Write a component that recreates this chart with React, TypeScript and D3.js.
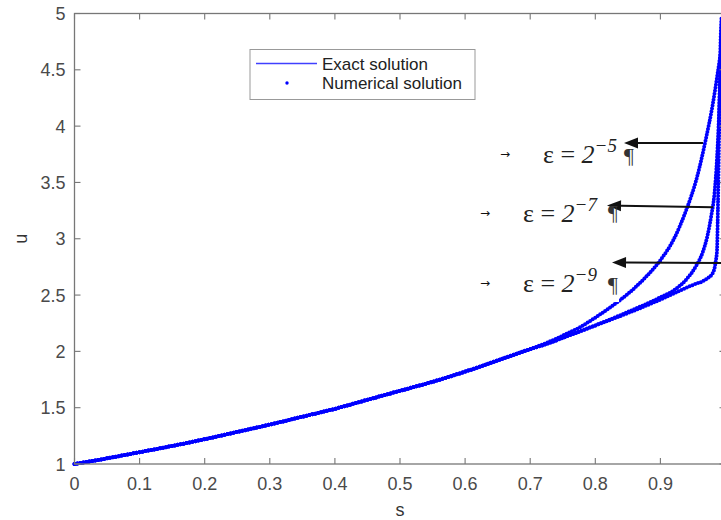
import React from "react";
import * as d3 from "d3";

// ---- data ----
const sCommon = [0, 0.05, 0.1, 0.15, 0.2, 0.25, 0.3, 0.35, 0.4, 0.45, 0.5, 0.55, 0.6, 0.65, 0.7];
const uCommon = [1, 1.05, 1.105, 1.16, 1.22, 1.285, 1.35, 1.42, 1.49, 1.57, 1.65, 1.73, 1.82, 1.92, 2.02];

// epsilon = 2^-5
const sTail5 = [0.725, 0.75, 0.775, 0.8, 0.825, 0.85, 0.875, 0.9, 0.92, 0.94, 0.955, 0.97, 0.98, 0.99, 1.0];
const uTail5 = [2.075, 2.14, 2.21, 2.3, 2.4, 2.51, 2.645, 2.81, 2.99, 3.26, 3.52, 3.89, 4.18, 4.55, 4.96];

// epsilon = 2^-7
const sTail7 = [0.725, 0.75, 0.8, 0.85, 0.9, 0.92, 0.94, 0.955, 0.965, 0.972, 0.978, 0.983, 0.987, 0.99, 0.992, 0.994, 0.996];
const uTail7 = [2.065, 2.12, 2.23, 2.35, 2.48, 2.54, 2.64, 2.76, 2.88, 3.02, 3.2, 3.4, 3.72, 4.1, 4.45, 4.75, 4.97];

// epsilon = 2^-9
const sTail9 = [0.725, 0.75, 0.8, 0.85, 0.9, 0.93, 0.95, 0.97, 0.981, 0.985, 0.987, 0.988, 0.989, 0.99, 0.991, 0.992, 0.994];
const uTail9 = [2.065, 2.12, 2.23, 2.34, 2.46, 2.54, 2.59, 2.64, 2.7, 2.8, 2.9, 3.15, 3.5, 3.9, 4.3, 4.65, 4.97];

const epsExponents = ["\u22125", "\u22127", "\u22129"];
// annotation anchors in data coordinates: label (s,u), arrow tail (s,u) -> arrow tip (s,u)
const labelS = [0.7197, 0.6889, 0.6889];
const labelU = [3.673, 3.149, 2.527];
const arrowTailS = [0.9654, 0.9808, 0.9946];
const arrowTailU = [3.85, 3.279, 2.785];
const arrowTipS = [0.8441, 0.818, 0.8257];
const arrowTipU = [3.85, 3.295, 2.789];

const xTicks = [0, 0.1, 0.2, 0.3, 0.4, 0.5, 0.6, 0.7, 0.8, 0.9, 1];
const xTickLabels = ["0", "0.1", "0.2", "0.3", "0.4", "0.5", "0.6", "0.7", "0.8", "0.9", "1"];
const yTicks = [1, 1.5, 2, 2.5, 3, 3.5, 4, 4.5, 5];
const yTickLabels = ["1", "1.5", "2", "2.5", "3", "3.5", "4", "4.5", "5"];

const legendLabels = ["Exact solution", "Numerical solution"];

export default function App() {
  const W = 721, H = 520;
  const x = d3.scaleLinear().domain([0, 1]).range([74.5, 725.5]);
  const y = d3.scaleLinear().domain([1, 5]).range([464, 13.5]);

  const build = (ts: number[], tu: number[]) =>
    sCommon.map((s, i) => [s, uCommon[i]] as [number, number]).concat(ts.map((s, i) => [s, tu[i]] as [number, number]));
  const curves = [build(sTail5, uTail5), build(sTail7, uTail7), build(sTail9, uTail9)];

  const line = d3.line<[number, number]>().x(d => x(d[0])).y(d => y(d[1])).curve(d3.curveMonotoneX);

  const axisColor = "#777";
  const textColor = "#4a4a4a";
  const blue = "#0000ff";
  const sans = "'Liberation Sans', Arial, Helvetica, sans-serif";
  const serif = "'Liberation Serif', 'Times New Roman', serif";

  const x0 = x(0), x1 = x(1), y0 = y(1), y1 = y(5);
  const tl = 6;

  return (
    <svg width={W} height={H} style={{ position: "absolute", left: 0, top: 0, overflow: "hidden", background: "#fff" }}>
      <rect x={0} y={0} width={W} height={H} fill="#fff" />
      {/* curves: exact (thin line) and numerical (dots) */}
      {curves.map((c, i) => (
        <path key={"e" + i} d={line(c) || ""} fill="none" stroke={blue} strokeWidth={1.2} />
      ))}
      {curves.map((c, i) => (
        <path key={"n" + i} d={line(c) || ""} fill="none" stroke={blue} strokeWidth={4}
          strokeDasharray="0 3" strokeLinecap="round" />
      ))}

      {/* axes box */}
      <rect x={x0} y={y1} width={x1 - x0} height={y0 - y1} fill="none" stroke={axisColor} strokeWidth={1.3} />
      {xTicks.map((t, i) => (
        <g key={"xt" + i}>
          <line x1={x(t)} x2={x(t)} y1={y0} y2={y0 - tl} stroke={axisColor} strokeWidth={1.1} />
          <line x1={x(t)} x2={x(t)} y1={y1} y2={y1 + tl} stroke={axisColor} strokeWidth={1.1} />
          <text x={x(t)} y={y0 + 26} textAnchor="middle" fontFamily={sans} fontSize={18} fill={textColor}>{xTickLabels[i]}</text>
        </g>
      ))}
      {yTicks.map((t, i) => (
        <g key={"yt" + i}>
          <line x1={x0} x2={x0 + tl} y1={y(t)} y2={y(t)} stroke={axisColor} strokeWidth={1.1} />
          <line x1={x1} x2={x1 - tl} y1={y(t)} y2={y(t)} stroke={axisColor} strokeWidth={1.1} />
          <text x={x0 - 9} y={y(t) + 6.5} textAnchor="end" fontFamily={sans} fontSize={18} fill={textColor}>{yTickLabels[i]}</text>
        </g>
      ))}
      <text x={x(0.5)} y={516} textAnchor="middle" fontFamily={sans} fontSize={18} fill="#333">s</text>
      <text transform={`translate(27,${(y0 + y1) / 2}) rotate(-90)`} textAnchor="middle" fontFamily={sans} fontSize={18} fill="#333">u</text>

      {/* legend */}
      <rect x={250} y={49.5} width={225} height={50} fill="#fff" stroke="#999" strokeWidth={1} />
      <line x1={256} x2={317} y1={63.5} y2={63.5} stroke="#4040ff" strokeWidth={1.4} />
      <circle cx={287} cy={83} r={1.7} fill={blue} />
      {legendLabels.map((l, i) => (
        <text key={"lg" + i} x={322} y={69.5 + i * 19} fontFamily={sans} fontSize={17} fill="#222">{l}</text>
      ))}

      {/* annotations */}
      <rect x={x(labelS[2]) - 45} y={y(labelU[2]) - 32} width={x(arrowTipS[2]) - x(labelS[2]) + 52} height={42} fill="#fff" />
      {epsExponents.map((e, i) => {
        const lx = x(labelS[i]);
        const ly = y(labelU[i]);
        const tx = x(arrowTipS[i]), ty = y(arrowTipU[i]);
        const sx = x(arrowTailS[i]), sy = y(arrowTailU[i]);
        const ang = Math.atan2(ty - sy, tx - sx);
        const hl = 14, hw = 5.5;
        const bx = tx - hl * Math.cos(ang), by = ty - hl * Math.sin(ang);
        const px = -Math.sin(ang) * hw, py = Math.cos(ang) * hw;
        const head = `M${tx},${ty}L${bx + px},${by + py}L${bx - px},${by - py}Z`;
        return (
          <g key={"an" + i}>
            <text x={lx - 43} y={ly - 5} fontFamily="'DejaVu Sans', sans-serif" fontSize={12} fill="#111">{"\u2192"}</text>
            <text x={lx} y={ly} fontFamily={serif} fontSize={26} fill="#222">
              {"\u03b5 = "}
              <tspan fontStyle="italic">2</tspan>
              <tspan fontStyle="italic" fontSize={19} dy={-11}>{e}</tspan>
            </text>
            <line x1={sx} y1={sy} x2={bx} y2={by} stroke="#111" strokeWidth={2} />
            <path d={head} fill="#111" />
            <text x={i === 0 ? tx : lx + 85} y={i === 0 ? ly : ly + (i === 1 ? -2 : 0)} fontFamily={serif} fontSize={22} fill="#333">{"\u00b6"}</text>
          </g>
        );
      })}
    </svg>
  );
}
